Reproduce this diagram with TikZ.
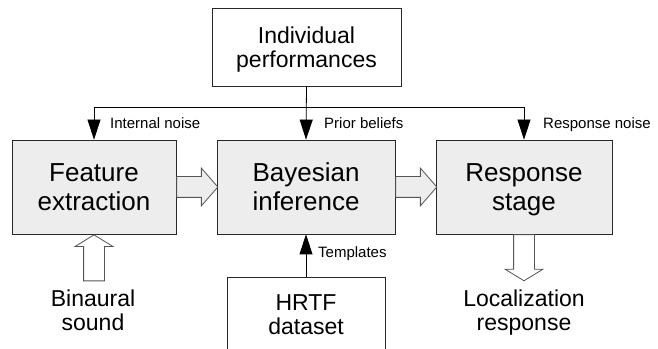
\documentclass[tikz,border=0pt]{standalone}
\usepackage{fontspec}
\setmainfont{Liberation Sans}
\usetikzlibrary{arrows.meta, positioning, calc, shapes.arrows}
\definecolor{stagefill}{RGB}{237, 237, 237}
\definecolor{stageline}{RGB}{40, 40, 40}
\definecolor{flowline}{RGB}{85, 85, 85}

\begin{document}
\begin{tikzpicture}[x=1pt, y=1pt,
  stagebox/.style={
    rectangle, draw=stageline, fill=stagefill,
    minimum height=94pt, line width=0.8pt,
    inner sep=0pt, align=center, text depth=0pt,
    font=\fontsize{26}{29}\selectfont
  },
  sourcebox/.style={
    rectangle, draw=stageline, fill=white,
    line width=0.8pt, inner sep=0pt, align=center, text depth=0pt,
    font=\fontsize{23}{24}\selectfont
  },
  plainlabel/.style={
    inner sep=0pt, align=center,
    font=\fontsize{23}{24}\selectfont
  },
  sidelabel/.style={
    inner sep=0pt, anchor=base west,
    font=\fontsize{15}{18}\selectfont
  },
  paramarrow/.style={
    draw=black, line width=0.8pt,
    -{Triangle[length=20pt, width=13pt]}
  },
  flowarrow/.style={
    single arrow, draw=flowline, fill=stagefill,
    line width=0.8pt, inner xsep=0pt, inner ysep=10pt,
    single arrow head extend=8.5pt
  },
  ioarrow/.style={
    flowarrow, fill=white,
    minimum height=46pt, single arrow tip angle=117
  },
]
\useasboundingbox (0,0) rectangle (658,348);

%% ------------------------------------------------------------
%% Model parameters (top)
%% ------------------------------------------------------------
\node[sourcebox, minimum width=189pt, minimum height=78pt] (indiv)
  at (306.5, 301) {Individual\\performances};

%% ------------------------------------------------------------
%% Processing stages
%% ------------------------------------------------------------
\node[stagebox, minimum width=164pt] (feat)  at  (94, 161) {Feature\\extraction};
\node[stagebox, minimum width=178pt] (bayes) at (306, 161) {Bayesian\\inference};
\node[stagebox, minimum width=176pt] (resp)  at (524, 161) {Response\\stage};

% Template source (bottom, runs off the page)
\node[sourcebox, minimum width=158pt, minimum height=76pt] (hrtf)
  at (306, 33) {HRTF\\dataset};

%% ------------------------------------------------------------
%% Parameter bus
%% ------------------------------------------------------------
\coordinate (bus) at (306, 241);
\draw[paramarrow] (indiv.south) -- (bayes.north);
\draw[paramarrow] (bus) -| (feat.north);
\draw[paramarrow] (bus) -| (resp.north);
\draw[paramarrow] (hrtf.north) -- (bayes.south);

\node[sidelabel] (noiseint)  at (110, 219) {Internal noise};
\node[sidelabel] (prior)     at (324, 219) {Prior beliefs};
\node[sidelabel] (noiseresp) at (543, 219) {Response noise};
\node[sidelabel] (tmpl)      at (318,  90) {Templates};

%% ------------------------------------------------------------
%% Signal flow (hollow arrows)
%% ------------------------------------------------------------
\node[flowarrow, minimum height=41pt, single arrow tip angle=98, anchor=tail]
  (f2b) at (feat.east) {};
\node[flowarrow, minimum height=41pt, single arrow tip angle=98, anchor=tail]
  (b2r) at (bayes.east) {};
\node[ioarrow, rotate=90, anchor=tip]   (soundin) at (feat.south) {};
\node[ioarrow, rotate=-90, anchor=tail] (respout) at (resp.south) {};

% Input / output
\node[plainlabel, anchor=north] (sound) at  (93, 58) {Binaural\\sound};
\node[plainlabel, anchor=north] (loc)   at (524, 58) {Localization\\response};

\end{tikzpicture}
\end{document}
